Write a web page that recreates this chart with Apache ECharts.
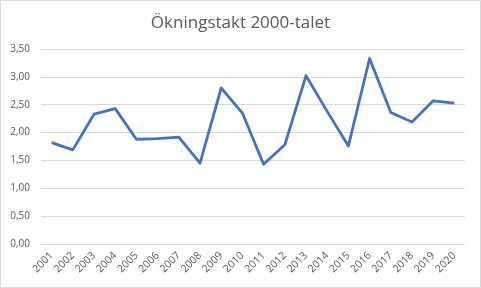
<!DOCTYPE html>
<html><head><meta charset="utf-8">
<script src="https://cdn.jsdelivr.net/npm/echarts@6/dist/echarts.min.js"></script>
<style>html,body{margin:0;padding:0;background:#fff}#c{width:481px;height:288px}</style>
</head><body><div id="c"></div>
<script>
const title = "Ökningstakt 2000-talet";
const years = ["2001","2002","2003","2004","2005","2006","2007","2008","2009","2010","2011","2012","2013","2014","2015","2016","2017","2018","2019","2020"];
const values = [1.82,1.69,2.33,2.43,1.88,1.89,1.92,1.45,2.80,2.35,1.43,1.78,3.02,2.38,1.76,3.33,2.36,2.19,2.57,2.53];
const yTicks = [0,0.5,1,1.5,2,2.5,3,3.5];

const chart = echarts.init(document.getElementById('c'), null, {renderer:'canvas'});
chart.setOption({
  animation:false,
  title:{text:title,left:'center',top:10,textStyle:{fontFamily:'Open Sans',fontSize:17,fontWeight:'normal',color:'#595959'}},
  graphic:[{type:'rect',shape:{x:0.5,y:0.5,width:480,height:287},style:{fill:'none',stroke:'#d9d9d9',lineWidth:1},silent:true}],
  grid:{left:41,right:16,top:49,bottom:44},
  xAxis:{type:'category',data:years,boundaryGap:true,
    axisLine:{show:false},axisTick:{show:false},
    axisLabel:{rotate:45,fontFamily:'Open Sans',fontSize:10.5,color:'#595959',margin:10,interval:0}},
  yAxis:{type:'value',min:yTicks[0],max:yTicks[yTicks.length-1],interval:0.5,
    axisLine:{show:false},axisTick:{show:false},
    splitLine:{lineStyle:{color:'#d9d9d9',width:1}},
    axisLabel:{fontFamily:'Open Sans',fontSize:10,color:'#595959',margin:11,
      formatter:v=>v.toFixed(2).replace('.',',')}},
  series:[{type:'line',data:values,symbol:'none',lineStyle:{color:'#4472C4',width:2.8,join:'round'}}]
});
</script></body></html>
